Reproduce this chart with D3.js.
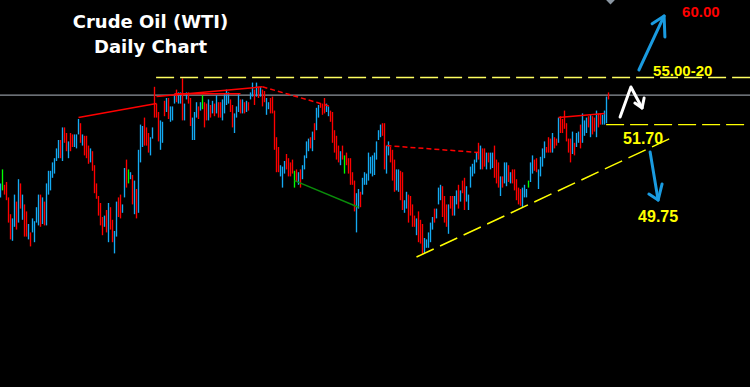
<!DOCTYPE html>
<html>
<head>
<meta charset="utf-8">
<script src="https://cdnjs.cloudflare.com/ajax/libs/d3/7.8.5/d3.min.js"></script>
<style>
    html, body { margin: 0; padding: 0; background: #000; }
    svg { display: block; }
</style>
</head>
<body>
<svg id="chart" width="750" height="387"></svg>
<script>
//  Daily bars, oldest first (USD/bbl)
const highs = [
    47.5, 48.5, 47.4, 47.6, 46.5, 45.3, 45.0, 46.7, 46.2, 47.8,
    47.5, 46.7, 46.0, 45.5, 44.6, 44.0, 45.0, 44.8, 45.8, 46.7,
    46.7, 46.5, 46.2, 47.5, 48.4, 48.4, 49.0, 49.3, 50.0, 50.6,
    50.6, 51.5, 51.5, 51.1, 50.5, 51.1, 51.0, 51.0, 51.0, 52.1,
    51.8, 51.0, 50.9, 50.9, 50.2, 50.0, 49.8, 48.8, 47.5, 46.6,
    46.1, 45.1, 45.2, 45.6, 46.1, 45.8, 44.9, 44.1, 46.2, 46.5,
    46.7, 46.0, 48.6, 49.2, 48.5, 48.3, 48.1, 47.7, 47.1, 49.9,
    51.7, 51.6, 52.2, 51.5, 51.1, 50.8, 51.5, 54.4, 53.2, 52.6,
    52.0, 51.9, 53.4, 53.6, 53.6, 53.0, 53.0, 53.9, 54.2, 54.0,
    54.0, 55.0, 53.2, 54.0, 54.0, 53.6, 52.2, 52.6, 53.3, 53.0,
    53.3, 53.8, 53.3, 53.2, 53.5, 53.1, 53.4, 53.2, 53.8, 53.3,
    53.3, 53.5, 53.9, 54.2, 54.0, 53.5, 53.1, 52.5, 53.0, 53.9,
    53.5, 53.5, 53.3, 53.4, 53.3, 54.0, 54.7, 54.2, 54.7, 54.4,
    54.4, 54.2, 54.1, 53.6, 53.3, 53.6, 53.7, 52.7, 50.8, 50.1,
    48.8, 48.7, 49.1, 49.6, 49.3, 49.0, 49.2, 48.4, 48.5, 48.3,
    48.5, 48.8, 49.5, 50.5, 50.7, 50.8, 51.2, 51.8, 52.9, 53.1,
    53.2, 53.2, 53.6, 53.2, 53.0, 52.7, 52.6, 51.3, 50.9, 50.2,
    49.8, 50.2, 49.5, 49.7, 49.3, 49.3, 48.3, 47.7, 46.8, 47.1,
    46.9, 47.9, 48.3, 48.2, 49.7, 49.4, 49.5, 49.7, 50.5, 51.3,
    51.7, 51.8, 51.8, 50.2, 50.5, 50.1, 49.9, 49.2, 48.5, 48.5,
    48.4, 48.3, 46.3, 46.9, 46.7, 46.6, 46.0, 45.2, 45.0, 45.5,
    44.9, 44.6, 43.6, 43.5, 44.0, 44.7, 45.1, 45.7, 45.7, 47.2,
    47.4, 47.3, 46.6, 46.0, 46.0, 46.6, 46.6, 46.6, 47.0, 47.4,
    47.0, 47.7, 47.9, 47.3, 46.7, 48.7, 48.9, 49.2, 49.7, 50.4,
    50.2, 50.0, 50.0, 49.7, 49.7, 49.7, 49.7, 50.2, 49.2, 49.0,
    48.0, 48.0, 49.0, 49.0, 48.8, 48.3, 48.5, 48.5, 47.8, 47.2,
    47.1, 47.2, 47.4, 47.1, 47.7, 49.0, 49.5, 49.2, 49.3, 48.5,
    49.4, 50.0, 50.5, 50.1, 50.8, 50.7, 51.1, 50.8, 50.7, 52.2,
    52.3, 52.1, 52.7, 51.8, 50.7, 50.7, 51.2, 50.4, 51.1, 51.2,
    51.7, 52.5, 52.0, 52.2, 52.3, 52.4, 52.3, 52.2, 52.7, 52.5,
    52.5, 52.4, 52.7, 53.7, 54.0
];

const lows = [
    46.5, 47.0, 46.7, 46.3, 44.7, 43.5, 43.4, 44.4, 44.2, 44.7,
    45.7, 44.9, 43.7, 43.7, 43.5, 43.0, 44.0, 43.3, 44.7, 44.5,
    44.4, 44.6, 44.5, 44.5, 46.7, 47.0, 47.9, 48.2, 49.1, 49.3,
    49.3, 49.1, 50.4, 49.8, 49.3, 49.8, 50.1, 50.1, 50.0, 51.0,
    50.4, 50.2, 49.5, 49.3, 48.9, 49.0, 48.4, 46.8, 46.4, 45.2,
    44.5, 43.8, 44.4, 44.0, 43.3, 44.2, 43.3, 42.5, 43.7, 45.1,
    45.0, 45.4, 46.5, 47.2, 47.5, 47.8, 46.0, 45.3, 45.0, 45.4,
    49.0, 50.1, 50.2, 50.2, 49.7, 49.5, 50.7, 52.2, 52.2, 50.5,
    49.9, 50.4, 52.3, 52.6, 52.1, 51.9, 52.0, 53.2, 53.3, 53.2,
    53.2, 52.0, 52.0, 53.5, 53.2, 51.6, 50.6, 50.6, 52.2, 52.1,
    52.7, 52.8, 51.5, 52.0, 52.0, 52.2, 52.5, 52.3, 52.5, 52.2,
    52.2, 52.0, 52.5, 53.1, 53.2, 52.6, 51.5, 51.1, 52.2, 52.6,
    52.5, 52.5, 52.5, 52.6, 52.7, 53.5, 53.7, 53.1, 53.7, 53.6,
    53.7, 53.0, 53.3, 52.4, 52.8, 52.5, 52.5, 49.9, 48.3, 48.3,
    48.0, 47.2, 48.2, 48.5, 48.0, 48.0, 48.2, 47.2, 47.6, 47.4,
    47.2, 47.8, 48.5, 49.3, 49.8, 50.0, 49.8, 50.6, 51.3, 52.2,
    52.9, 52.4, 52.5, 52.6, 52.3, 51.9, 50.4, 49.7, 49.2, 49.0,
    48.8, 49.2, 48.2, 48.8, 48.2, 47.4, 47.4, 45.5, 44.0, 45.7,
    45.8, 46.7, 47.4, 47.4, 47.7, 48.2, 48.0, 48.1, 49.2, 50.6,
    50.8, 50.9, 48.5, 48.2, 49.5, 49.0, 47.7, 46.9, 47.0, 46.9,
    46.3, 45.6, 45.4, 45.7, 44.7, 45.2, 44.4, 44.4, 43.8, 43.3,
    43.2, 42.4, 42.5, 42.9, 42.9, 43.3, 44.2, 44.7, 45.0, 46.0,
    46.3, 45.1, 44.7, 44.4, 43.9, 45.7, 45.2, 45.2, 46.0, 45.7,
    46.2, 46.8, 45.6, 46.2, 45.6, 47.2, 48.0, 48.2, 49.0, 49.2,
    48.5, 48.5, 48.7, 48.5, 49.0, 48.5, 48.6, 47.9, 47.5, 47.2,
    46.6, 47.2, 47.5, 47.3, 47.6, 47.5, 47.5, 47.0, 46.3, 46.0,
    45.9, 45.8, 46.5, 46.5, 47.2, 47.6, 48.2, 48.4, 48.3, 47.1,
    48.0, 48.7, 49.3, 49.7, 49.7, 49.7, 49.7, 50.0, 50.2, 50.4,
    51.1, 51.1, 51.4, 50.5, 49.7, 49.0, 49.6, 49.5, 50.1, 50.4,
    50.0, 50.4, 50.9, 51.1, 51.5, 50.8, 51.0, 51.2, 50.8, 51.5,
    51.7, 51.7, 51.7, 51.8, 53.5
];

//  Bar direction: b = up close, r = down close, g = unchanged
const dirs = [
    'bgrrrrbbrb', 'rbrrbrbbbb', 'rbrbbbbbbb', 'rbrrbrrbbb', 'rbrrrbrrrr',
    'rrbrbrrbbr', 'rbbrgbrbrb', 'bbrrrbbrrr', 'bbrbrbbbrb', 'brbbrrbbbr',
    'bgrrbrbrbr', 'rbbbbrrbbb', 'rbrbrbbrbr', 'brrbbrrrrr', 'bbbrrrrgrb',
    'rbbbbrbrbb', 'rrrbbrrrrr', 'brgrrrrrbb', 'rbbbbbbbbb', 'brrbbrrrbb',
    'rrbbrrrrbr', 'rrbbbbbrbb', 'brrrbrrbbr', 'brrbbbbbbr', 'brrbrbbrrr',
    'brbbrbrrrr', 'rbbbgbbrrb', 'bbbrrrbrrb', 'rrrrrrbrbb', 'rbbbrbrrbr',
    'rbbbr'
].join('').split('');

//  Price levels and labels
const lastPrice = 53.8;
const resistance = 55.1;
const support = 51.7;
const levelLabels = [
    { text: '60.00',    idx: 340.8, price: 59.4,  color: '#ff0000', size: 15 },
    { text: '55.00-20', idx: 326.3, price: 55.2,  color: '#ffff00', size: 15 },
    { text: '51.70',    idx: 311.3, price: 50.35, color: '#ffff00', size: 16 },
    { text: '49.75',    idx: 318.8, price: 44.75, color: '#ffff00', size: 16 }
];

//  Trend lines drawn on the chart: [bar index, price] pairs
const trendLines = [
    { pts: [[39, 52.2], [78, 53.2]],     color: '#ff0000', dash: null },
    { pts: [[78, 53.7], [131, 54.4]],    color: '#ff0000', dash: null },
    { pts: [[87, 53.9], [120, 53.9]],    color: '#ff0000', dash: null },
    { pts: [[131, 54.4], [165, 53.0]],   color: '#ff0000', dash: '5,3' },
    { pts: [[193, 50.2], [240, 49.7]],   color: '#ff0000', dash: '5,3' },
    { pts: [[279, 52.2], [302, 52.5]],   color: '#ff0000', dash: null },
    { pts: [[147, 47.7], [179, 45.8]],   color: '#0a8c0a', dash: null },
    { pts: [[208, 42.24], [337.5, 50.89]], color: '#ffff00', dash: '19,7' }
];

//  Hand drawn arrows: [bar index, price] polylines
const arrows = [
    { color: '#1a9be0', lines: [
        [[319.2, 55.6], [331.8, 59.46]],
        [[325.8, 58.9], [331.8, 59.46], [332.2, 57.96]] ] },
    { color: '#ffffff', lines: [
        [[309.8, 52.24], [315.2, 54.39], [320.8, 52.89]],
        [[317.2, 53.24], [320.8, 52.89], [321.8, 53.6]] ] },
    { color: '#1a9be0', lines: [
        [[324.8, 49.74], [328.8, 46.31]],
        [[324.2, 46.74], [328.8, 46.31], [330.8, 47.46]] ] }
];


function drawChart() {
    const width = 750, height = 387;
    const svg = d3.select('#chart');

    svg.append('rect')
        .attr('width', width)
        .attr('height', height)
        .attr('fill', '#000');

    //  Scales
    const xScale = d3.scaleLinear()
        .domain([0, highs.length - 1])
        .range([0.5, 2 * (highs.length - 1) + 0.5]);

    const yScale = d3.scaleLinear()
        .domain([42.6, 60.6])
        .range([252, 0]);

    const colorOf = { b: '#14aaf2', r: '#ff0000', g: '#00ff00' };

    //======================================
    //  Last price line
    //======================================
    svg.append('line')
        .attr('x1', 0).attr('x2', width)
        .attr('y1', yScale(lastPrice)).attr('y2', yScale(lastPrice))
        .attr('stroke', '#8e949c')
        .attr('stroke-width', 1.2);

    //======================================
    //  Bars (high - low)
    //======================================
    svg.append('g')
        .attr('id', 'bars')
        .selectAll('line')
        .data(highs.map((h, i) => ({ i, h, l: lows[i], d: dirs[i] })))
        .enter()
        .append('line')
        .attr('x1', d => xScale(d.i))
        .attr('x2', d => xScale(d.i))
        .attr('y1', d => yScale(d.h))
        .attr('y2', d => yScale(d.l))
        .attr('stroke', d => colorOf[d.d])
        .attr('stroke-width', 1.35);

    //======================================
    //  Levels (dashed)
    //======================================
    svg.append('line')
        .attr('x1', xScale(77.8)).attr('x2', width)
        .attr('y1', yScale(resistance) + 0.5).attr('y2', yScale(resistance) + 0.5)
        .attr('stroke', '#ffff60')
        .attr('stroke-width', 1.3)
        .attr('stroke-dasharray', '18,6');

    svg.append('line')
        .attr('x1', xScale(302.8)).attr('x2', width)
        .attr('y1', yScale(support)).attr('y2', yScale(support))
        .attr('stroke', '#ffff00')
        .attr('stroke-width', 1.4)
        .attr('stroke-dasharray', '18,6');

    //======================================
    //  Trend lines
    //======================================
    const lineGen = d3.line()
        .x(p => xScale(p[0]))
        .y(p => yScale(p[1]));

    svg.append('g')
        .attr('id', 'trend-lines')
        .selectAll('path')
        .data(trendLines)
        .enter()
        .append('path')
        .attr('d', d => lineGen(d.pts))
        .attr('fill', 'none')
        .attr('stroke', d => d.color)
        .attr('stroke-width', 1.5)
        .attr('stroke-dasharray', d => d.dash);

    //======================================
    //  Arrows
    //======================================
    arrows.forEach(a => {
        svg.append('g')
            .selectAll('path')
            .data(a.lines)
            .enter()
            .append('path')
            .attr('d', d => lineGen(d))
            .attr('fill', 'none')
            .attr('stroke', a.color)
            .attr('stroke-width', 3)
            .attr('stroke-linecap', 'round')
            .attr('stroke-linejoin', 'round');
    });

    //  little time marker at the top
    svg.append('path')
        .attr('d', lineGen([[302.8, 60.6], [307.2, 60.6], [305, 60.28]]) + 'Z')
        .attr('fill', '#8a96a2');

    //======================================
    //  Labels
    //======================================
    svg.append('g')
        .selectAll('text')
        .data(levelLabels)
        .enter()
        .append('text')
        .attr('x', d => xScale(d.idx))
        .attr('y', d => yScale(d.price))
        .attr('fill', d => d.color)
        .attr('font-family', 'Liberation Sans, Arial, sans-serif')
        .attr('font-weight', 'bold')
        .attr('font-size', d => d.size)
        .text(d => d.text);

    //======================================
    //  Title
    //======================================
    const title = svg.append('g')
        .attr('font-family', 'DejaVu Sans, Verdana, sans-serif')
        .attr('font-weight', 'bold')
        .attr('font-size', 18)
        .attr('fill', '#fff')
        .attr('text-anchor', 'middle');

    title.append('text').attr('x', 150.5).attr('y', 27.5).text('Crude Oil (WTI)');
    title.append('text').attr('x', 150.5).attr('y', 53).text('Daily Chart');
}

drawChart();
</script>
</body>
</html>
